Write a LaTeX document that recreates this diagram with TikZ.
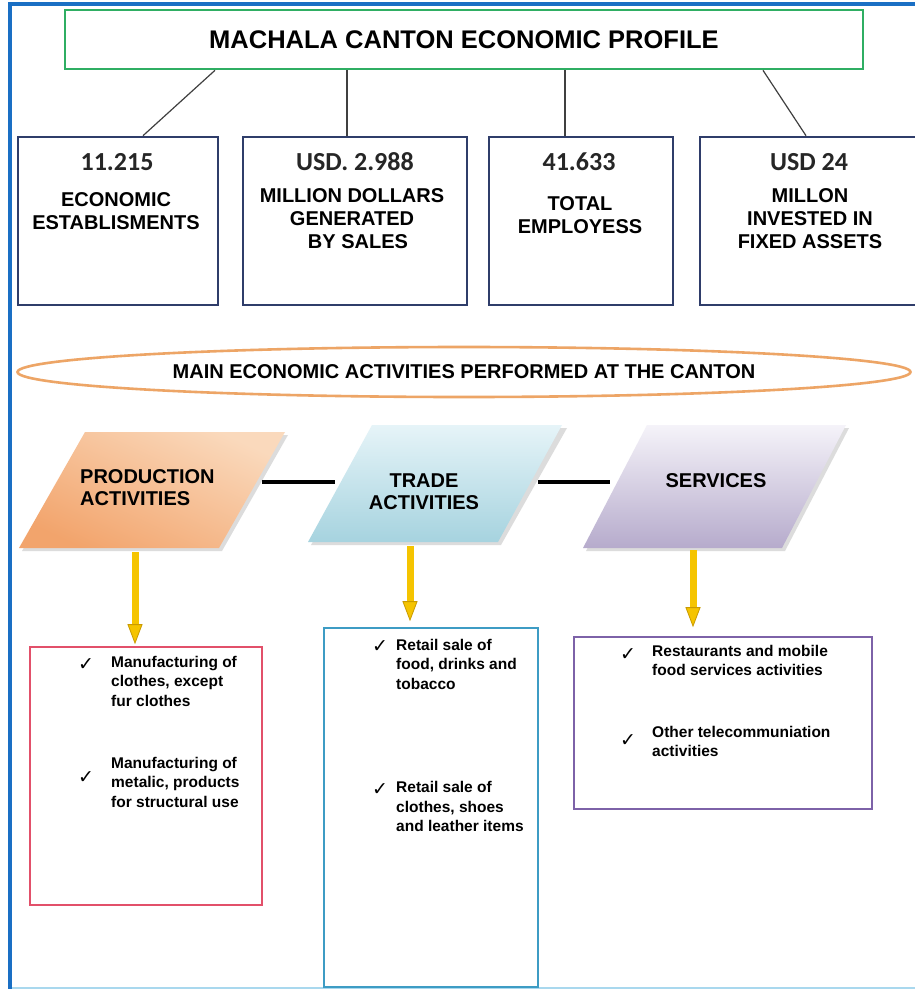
\documentclass[tikz,border=0pt]{standalone}
\usepackage{fontspec}
\setmainfont{Liberation Sans}
\newfontfamily\numfnt{Carlito}
\newfontfamily\dejavu{DejaVu Sans}
\usetikzlibrary{shapes.geometric,arrows.meta}

\definecolor{frameblue}{HTML}{1A6FC4}
\definecolor{framelight}{HTML}{A9D8EE}
\definecolor{titlegreen}{HTML}{2FAE63}
\definecolor{navy}{HTML}{2F3D6A}
\definecolor{linkgray}{HTML}{404040}
\definecolor{ovalorange}{HTML}{EDA566}
\definecolor{gold}{HTML}{F5C400}
\definecolor{darkgold}{HTML}{C99A00}
\definecolor{boxred}{HTML}{E2506A}
\definecolor{boxblue}{HTML}{3D9CC4}
\definecolor{boxpurple}{HTML}{7D62A8}
\definecolor{prodA}{HTML}{F2A46C}
\definecolor{prodB}{HTML}{FAD9BC}
\definecolor{tradeA}{HTML}{E6F4F8}
\definecolor{tradeB}{HTML}{A6D3DF}
\definecolor{servA}{HTML}{F5F3F9}
\definecolor{servB}{HTML}{B6ABCC}

\tikzset{
  statbox/.style={draw=navy, line width=2.6pt, fill=white, minimum height=168pt, inner sep=0pt},
  numtext/.style={font=\numfnt\bfseries\fontsize{26}{28}\selectfont, text=black!85, inner sep=0pt},
  lbltext/.style={font=\bfseries\fontsize{20}{23}\selectfont, align=center, inner sep=0pt},
  link/.style={draw=linkgray, line width=1.2pt},
  bar/.style={draw=black, line width=3.6pt},
  goldarrow/.style={draw=gold, line width=7pt,
    -{Triangle[length=20pt, width=15pt, fill=gold, color=darkgold, line width=0.8pt]}},
  acttext/.style={font=\bfseries\fontsize{20}{22}\selectfont, inner sep=0pt},
  listbox/.style={line width=1.6pt, fill=white, inner sep=0pt},
  itemtext/.style={font=\bfseries\fontsize{15.5}{19.5}\selectfont, align=left, inner sep=0pt, anchor=west},
  chk/.style={font=\dejavu\bfseries\fontsize{19}{19}\selectfont, inner sep=0pt},
  pshadow/.style={fill=black!30, opacity=0.45}
}

\begin{document}
\begin{tikzpicture}[x=1pt, y=-1pt]
\useasboundingbox (0,0) rectangle (915,989);
\fill[white] (0,0) rectangle (915,989);

% outer frame
\draw[framelight, line width=2pt] (10,988) -- (916,988);
\draw[frameblue, line width=3.2pt] (917,4) -- (10,4) -- (10,990);

% heading
\node[draw=titlegreen, line width=2.6pt, fill=white, minimum width=798pt, minimum height=59pt,
      font=\bfseries\fontsize{25.5}{28}\selectfont] (title) at (464,39.5) {MACHALA CANTON ECONOMIC PROFILE};

% key figures
\node[statbox, minimum width=200pt] (b1) at (118,221) {};
\node[statbox, minimum width=224pt] (b2) at (355,221) {};
\node[statbox, minimum width=184pt] (b3) at (581,221) {};
\node[statbox, minimum width=218pt] (b4) at (809,221) {};

\draw[link] ([xshift=-249pt]title.south) -- ([xshift=25pt]b1.north);
\draw[link] ([xshift=-117pt]title.south) -- ([xshift=-8pt]b2.north);
\draw[link] ([xshift=101pt]title.south) -- ([xshift=-16pt]b3.north);
\draw[link] ([xshift=299pt]title.south) -- ([xshift=-3pt]b4.north);

\node[numtext] (n1) at (117,162) {11.215};
\node[numtext] (n2) at (355,162) {USD. 2.988};
\node[numtext] (n3) at (579,162) {41.633};
\node[numtext] (n4) at (809,162) {USD 24};

\node[lbltext] (l1) at (116,211.5) {ECONOMIC\\ESTABLISMENTS};
\node[lbltext] (l2) at (352,219) {MILLION DOLLARS\\GENERATED\\\hspace*{12pt}BY SALES};
\node[lbltext] (l3) at (580,215) {TOTAL\\EMPLOYESS};
\node[lbltext] (l4) at (810,219) {MILLON\\INVESTED IN\\FIXED ASSETS};

% activities banner
\node[ellipse, draw=ovalorange, line width=2.6pt, fill=white, minimum width=893pt, minimum height=50pt,
      font=\bfseries\fontsize{20}{22}\selectfont] (oval) at (464,372) {MAIN ECONOMIC ACTIVITIES PERFORMED AT THE CANTON};

% activity groups
\fill[pshadow] (88,435) -- (288,435) -- (222,551) -- (22,551) -- cycle;
\shade[top color=prodB, bottom color=prodA, shading angle=-25]
  (85,432) -- (285,432) -- (219,548) -- (19,548) -- cycle;
\fill[pshadow] (377,428) -- (567,428) -- (501,545) -- (311,545) -- cycle;
\shade[top color=tradeA, bottom color=tradeB]
  (372,425) -- (562,425) -- (498,542) -- (308,542) -- cycle;
\fill[pshadow] (650,428) -- (849,428) -- (785,551) -- (586,551) -- cycle;
\shade[top color=servA, bottom color=servB]
  (647,425) -- (846,425) -- (782,548) -- (583,548) -- cycle;

\node[acttext, align=left, anchor=west] (prod) at (80,488) {PRODUCTION\\ACTIVITIES};
\node[acttext, align=center] (trade) at (424,492) {TRADE\\ACTIVITIES};
\node[acttext] (serv) at (716,481) {SERVICES};

\coordinate (prodR) at (262,482);
\coordinate (tradeL) at (335,482);
\coordinate (tradeR) at (538,482);
\coordinate (servL) at (610,482);
\draw[bar] (prodR) -- (tradeL);
\draw[bar] (tradeR) -- (servL);

% detail lists
\node[listbox, draw=boxred, minimum width=232pt, minimum height=258pt] (red) at (146,776) {};
\node[listbox, draw=boxblue, minimum width=214pt, minimum height=359pt] (blue) at (431,807.5) {};
\node[listbox, draw=boxpurple, minimum width=298pt, minimum height=172pt] (purple) at (723,723) {};

\coordinate (prodS) at (135,552);
\coordinate (tradeS) at (410,546);
\coordinate (servS) at (693,550);
\draw[goldarrow] (prodS) -- ([yshift=2pt]red.north -| prodS);
\draw[goldarrow] (tradeS) -- ([yshift=6pt]blue.north -| tradeS);
\draw[goldarrow] (servS) -- ([yshift=9pt]purple.north -| servS);

\node[chk] (c1) at (86,665) {✓};
\node[itemtext] (i1) at (111,681) {Manufacturing of\\clothes, except\\fur clothes};
\node[chk] (c2) at (86,778) {✓};
\node[itemtext] (i2) at (111,782) {Manufacturing of\\metalic, products\\for structural use};

\node[chk] (c3) at (380,647) {✓};
\node[itemtext] (i3) at (396,664) {Retail sale of\\food, drinks and\\tobacco};
\node[chk] (c4) at (380,790) {✓};
\node[itemtext] (i4) at (396,806.5) {Retail sale of\\clothes, shoes\\and leather items};

\node[chk] (c5) at (628,655) {✓};
\node[itemtext] (i5) at (652,660.5) {Restaurants and mobile\\food services activities};
\node[chk] (c6) at (628,741) {✓};
\node[itemtext] (i6) at (652,741.5) {Other telecommuniation\\activities};
\end{tikzpicture}
\end{document}
